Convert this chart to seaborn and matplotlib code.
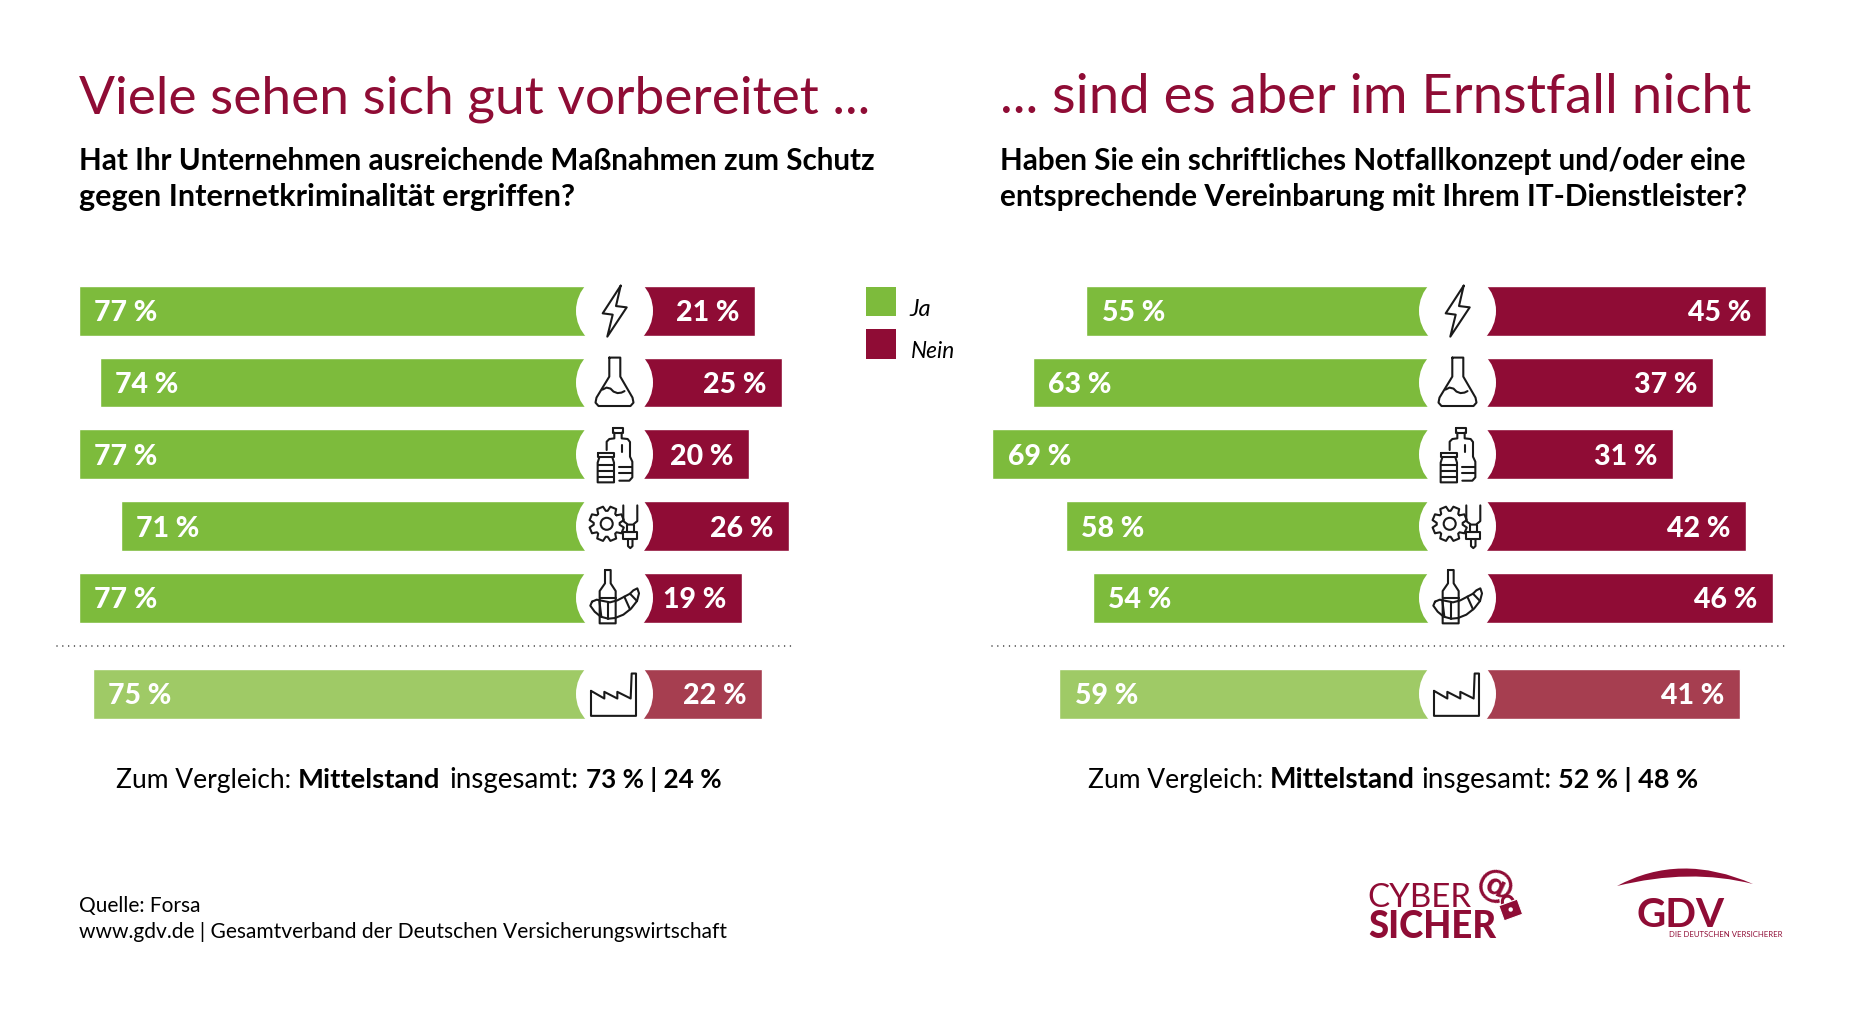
import numpy as np
import pandas as pd
import seaborn as sns
import matplotlib.pyplot as plt
from matplotlib.patches import Arc, Circle, Rectangle, PathPatch, Polygon
from matplotlib.path import Path
from matplotlib.transforms import Affine2D

# Werte aus der Grafik
branchen = ["Energie", "Chemie", "Pharma", "Maschinenbau", "Ernaehrung", "Industrie gesamt"]
gruppe = ["Branche", "Branche", "Branche", "Branche", "Branche", "Gesamt"]
ja_links = [77, 74, 77, 71, 77, 75]
nein_links = [21, 25, 20, 26, 19, 22]
ja_rechts = [55, 63, 69, 58, 54, 59]
nein_rechts = [45, 37, 31, 42, 46, 41]

GREEN = "#7DBB3C"
GREEN_LIGHT = "#9FCA66"
RED = "#8F0C35"
RED_LIGHT = "#A63E50"
INK = "#1A1A1A"

W, H = 1850, 1016

sns.set_theme(style="white")
plt.rcParams["font.family"] = ["Lato", "DejaVu Sans"]

fig = plt.figure(figsize=(W / 100, H / 100), dpi=100, facecolor="white")
renderer = fig.canvas.get_renderer()

# Zeilenraster in Pixeln
ROW0 = 310.85
PITCH = 71.75
row_pos = [0, 1, 2, 3, 4, 5.338]
AX_TOP, AX_BOTTOM = 250, 750


def bars(values, zero_px, k, side):
    # eine Balkenseite als eigene Achse, k = Pixel pro Prozentpunkt
    span = 85
    if side == "ja":
        rect = [(zero_px - span * k) / W, 1 - AX_BOTTOM / H, span * k / W, (AX_BOTTOM - AX_TOP) / H]
        colors = {"Branche": GREEN, "Gesamt": GREEN_LIGHT}
    else:
        rect = [zero_px / W, 1 - AX_BOTTOM / H, span * k / W, (AX_BOTTOM - AX_TOP) / H]
        colors = {"Branche": RED, "Gesamt": RED_LIGHT}
    ax = fig.add_axes(rect)
    df = pd.DataFrame({"branche": branchen, "pos": row_pos, "gruppe": gruppe, "wert": values})
    sns.barplot(data=df, x="wert", y="pos", hue="gruppe", palette=colors, orient="y",
                native_scale=True, dodge=False, width=0.693, saturation=1, legend=False, ax=ax)
    ax.set_ylim((AX_BOTTOM - ROW0) / PITCH, (AX_TOP - ROW0) / PITCH)
    if side == "ja":
        ax.set_xlim(span, 0)
    else:
        ax.set_xlim(0, span)
    ax.axis("off")
    for v, p in zip(values, row_pos):
        dx = 15.5 if side == "ja" else -15.5
        ax.annotate(f"{v} %", xy=(v, p), xytext=(dx * 0.72, 0), textcoords="offset points",
                    ha="left" if side == "ja" else "right", va="center_baseline",
                    color="white", fontsize=20.5, fontweight="black")


bars(ja_links, 614, 6.95, "ja")
bars(nein_links, 613.5, 6.75, "nein")
bars(ja_rechts, 1454, 6.69, "ja")
bars(nein_rechts, 1464.5, 6.71, "nein")

# Overlay in Pixelkoordinaten fuer Texte, Icons, Logos
ov = fig.add_axes([0, 0, 1, 1], zorder=5)
ov.set_xlim(0, W)
ov.set_ylim(H, 0)
ov.axis("off")


def put(x, y, s, width=None, size=20, **kw):
    t = ov.text(x, y, s, fontsize=size, va="baseline", ha="left", **kw)
    if width:
        t.set_fontsize(size * width / t.get_window_extent(renderer).width)
    return t


def stroke(cx, cy, pts, closed=False, fill=None, lw=1.5):
    xy = np.array(pts, dtype=float) + (cx, cy)
    if closed:
        xy = np.vstack([xy, xy[0]])
    if fill:
        ov.add_patch(Polygon(xy, closed=True, fc=fill, ec="none"))
    ov.plot(xy[:, 0], xy[:, 1], color=INK, lw=lw, solid_joinstyle="round", solid_capstyle="round")


def icon_bolt(cx, cy):
    stroke(cx, cy, [(6.2, -25.2), (-11.8, 2.5), (-1.8, 3.8), (-7.2, 25.8), (12.2, -3.5), (1.5, -4.8)], closed=True)


def icon_flask(cx, cy):
    stroke(cx, cy, [(-5.2, -25), (5.8, -25), (5.8, -6), (18, 15), (19, 20), (16, 23.4), (-16, 23.4),
                    (-19, 20), (-18, 15), (-5.2, -6)], closed=True)
    stroke(cx, cy, [(-12, 7), (-8, 5), (-4, 6), (-1, 9), (3, 10.5), (7, 10), (10, 8.5)])


def icon_bottles(cx, cy):
    z = lambda pts: [((x - 163.5) / 3, (y - 553) / 3) for x, y in pts]
    stroke(cx, cy, z([(158, 473), (190, 473), (190, 488), (158, 488)]), closed=True)
    stroke(cx, cy, z([(140, 540), (140, 515), (148, 507), (163, 505), (163, 488)]))
    stroke(cx, cy, z([(185, 488), (185, 505), (203, 507), (210, 516), (210, 560), (217, 575), (217, 622),
                      (208, 632), (178, 632)]))
    stroke(cx, cy, z([(187, 525), (187, 545)]))
    stroke(cx, cy, z([(178, 590), (215, 590)]))
    stroke(cx, cy, z([(178, 610), (215, 610)]))
    stroke(cx, cy, z([(113, 548), (163, 548), (163, 562), (113, 562)]), closed=True)
    stroke(cx, cy, z([(118, 562), (113, 578), (113, 637), (162, 637), (162, 578), (157, 562)]))
    stroke(cx, cy, z([(113, 585), (162, 585)]))
    stroke(cx, cy, z([(113, 602), (162, 602)]))
    stroke(cx, cy, z([(113, 620), (162, 620)]))


def icon_gear(cx, cy):
    gx, gy = -7.8, -2.3
    pts = []
    for i in range(8):
        a = i * np.pi / 4 - np.pi / 8
        for da, r in [(-0.32, 13), (-0.18, 17.5), (0.18, 17.5), (0.32, 13)]:
            pts.append((gx + r * np.cos(a + da), gy + r * np.sin(a + da)))
    stroke(cx, cy, pts, closed=True)
    ov.add_patch(Circle((cx + gx, cy + gy), 6, fc="none", ec=INK, lw=1.5))
    stroke(cx, cy, [(8.8, -20.7), (8.8, -5), (13.5, -1.5), (18.5, -1.5), (22.8, -5), (22.8, -20.7)])
    stroke(cx, cy, [(12, -1.5), (12, 6), (19.5, 6), (19.5, -1.5)])
    stroke(cx, cy, [(8.8, 6), (22.8, 6), (22.8, 13), (8.8, 13)], closed=True)
    stroke(cx, cy, [(13.5, 13), (13.5, 20), (15.8, 22), (18, 20), (18, 13)])


def icon_croissant(cx, cy):
    z = lambda pts: [((x - 103.5) / 3, (y - 98.5) / 3) for x, y in pts]
    stroke(cx, cy, z([(75, 15), (92, 15), (92, 55), (107, 78), (107, 175), (59, 175), (59, 78), (75, 55)]), closed=True)
    stroke(cx, cy, z([(59, 98), (107, 98)]))
    stroke(cx, cy, z([(36, 110), (50, 104), (70, 108), (90, 112), (112, 106), (133, 95), (150, 86), (160, 76),
                      (172, 70), (177, 85), (171, 108), (153, 131), (130, 149), (105, 159), (85, 161),
                      (62, 155), (44, 140), (31, 122)]), closed=True, fill="white")
    stroke(cx, cy, z([(84, 112), (84, 161)]))
    stroke(cx, cy, z([(58, 106), (64, 155)]))
    stroke(cx, cy, z([(133, 95), (150, 133)]))
    stroke(cx, cy, z([(150, 86), (171, 108)]))


def icon_factory(cx, cy):
    z = lambda pts: [((x - 163.5) / 3, (y - 1271) / 3) for x, y in pts]
    stroke(cx, cy, z([(93, 1262), (93, 1337), (228, 1337), (228, 1210), (215, 1210), (212, 1285),
                      (172, 1265), (172, 1285), (133, 1265), (133, 1285)]), closed=True)


icons = [icon_bolt, icon_flask, icon_bottles, icon_gear, icon_croissant, icon_factory]

for cx in (614.5, 1457.5):
    for p, draw in zip(row_pos, icons):
        cy = ROW0 + PITCH * p
        ov.add_patch(Circle((cx, cy), 38.5, fc="white", ec="none"))
        draw(cx, cy)

# gepunktete Trennlinien
for x0, x1 in [(57, 793), (992, 1787)]:
    ov.plot([x0, x1], [645.7, 645.7], color=INK, lw=1.1, linestyle=(0, (0.01, 3.8)), dash_capstyle="round")

# Titel und Fragen
put(79, 113.3, "Viele sehen sich gut vorbereitet ...", width=793, size=34, color=RED)
put(1000, 113.3, "... sind es aber im Ernstfall nicht", width=753, size=34, color=RED)
put(79, 170, "Hat Ihr Unternehmen ausreichende Maßnahmen zum Schutz", width=797, size=20, color="black", fontweight="bold")
put(79, 206, "gegen Internetkriminalität ergriffen?", width=497, size=20, color="black", fontweight="bold")
put(1000, 170, "Haben Sie ein schriftliches Notfallkonzept und/oder eine", width=748, size=20, color="black", fontweight="bold")
put(1000, 206, "entsprechende Vereinbarung mit Ihrem IT-Dienstleister?", width=747, size=20, color="black", fontweight="bold")

# Legende
ov.add_patch(Rectangle((866, 286.7), 30, 29.5, fc=GREEN, ec="none"))
ov.add_patch(Rectangle((866, 329), 30, 29.5, fc=RED, ec="none"))
put(909, 315.5, "Ja", size=17, color="black", style="italic")
put(910.7, 358, "Nein", width=44, size=17, color="black", style="italic")

# Vergleichszeile
vergleich = [
    [(116, 175, "Zum Vergleich:", "normal"), (298, 142, "Mittelstand", "bold"),
     (449, 129, "insgesamt:", "normal"), (586, 135, "73 % | 24 %", "bold")],
    [(1087.6, 175, "Zum Vergleich:", "normal"), (1270, 145, "Mittelstand", "bold"),
     (1421, 130, "insgesamt:", "normal"), (1558, 140, "52 % | 48 %", "bold")],
]
for zeile in vergleich:
    for x, w, s, fw in zeile:
        put(x, 788, s, width=w, size=19, color="black", fontweight=fw)

# Quelle
put(79, 911.7, "Quelle: Forsa", width=122, size=15, color="black")
put(79, 938, "www.gdv.de | Gesamtverband der Deutschen Versicherungswirtschaft", width=651, size=15, color="black")

# Logo Cyber Sicher
put(1367, 906.7, "CYBER", width=104, size=30, color=RED)
put(1368, 937.7, "SICHER", width=128, size=30, color=RED, fontweight="black")
ov.text(1495, 887, "@", fontsize=27, color=RED, fontweight="bold", family="DejaVu Sans", rotation=-25,
        ha="center", va="center")
lock = Affine2D().rotate_deg_around(1510.7, 910, -20) + ov.transData
ov.add_patch(Arc((1510.7, 902), 11, 13, theta1=180, theta2=360, ec=RED, lw=2.2, transform=lock))
ov.add_patch(Rectangle((1501, 902), 19.5, 16, fc=RED, ec="white", lw=0.8, transform=lock))
ov.add_patch(Circle((1510.7, 909.5), 2.2, fc="white", ec="none"))

# Logo GDV
swoosh = Path(
    [(1617, 886), (1680, 852), (1753, 884), (1690, 868), (1617, 886)],
    [Path.MOVETO, Path.CURVE3, Path.CURVE3, Path.CURVE3, Path.CURVE3],
)
ov.add_patch(PathPatch(swoosh, fc=RED, ec="none"))
put(1637, 926.7, "GDV", width=88, size=30, color=RED, fontweight="bold")
put(1669, 937, "DIE DEUTSCHEN VERSICHERER", width=113, size=7, color=RED)

fig.savefig("out.png", dpi=100, facecolor="white")
